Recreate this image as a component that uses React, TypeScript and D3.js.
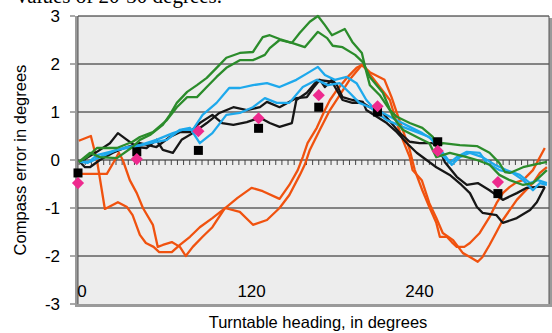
import React from 'react'
import * as d3 from 'd3'

// heading (deg), compass error (deg)
const orangeA = [[-3.4,0.4],[5.2,0.5],[9.5,0],[15.2,-1.02],[24.5,-0.88],[31,-0.98],[35,-1.15],[40.2,-1.56],[44.5,-1.73],[50,-1.81],[54,-1.92],[63,-1.92],[68.8,-1.77],[76,-1.6],[83,-1.4],[92,-1.21],[102,-0.98],[110,-0.79],[120,-0.58],[128,-0.65],[140,-0.81],[147,-0.52],[153,-0.21],[156.6,0.06],[160,0.35],[166.6,0.67],[172.4,1.04],[176,1.25],[181,1.46],[188,1.71],[195,1.92],[198.8,1.98],[204.5,1.83],[215,1.67],[220,1.31],[223.8,0.98],[228,0.63],[233,0.21],[236.6,-0.21],[242,-0.63],[247,-0.98],[252,-1.31],[254.5,-1.6],[259.5,-1.6],[263,-1.71],[266.6,-1.81],[272,-1.81],[276,-1.73],[283,-1.52],[290,-1.19],[295,-0.9],[299.5,-0.69],[304.5,-0.56],[309.5,-0.46],[314,-0.42],[321,-0.21],[329.5,0.25]]
const orangeB = [[-3.4,-0.29],[16.6,-0.29],[22.4,0],[25.2,0.15],[28,0],[33,-0.42],[38,-0.69],[42.4,-1.0],[49.5,-1.35],[53,-1.81],[56.6,-1.77],[63,-1.71],[68.8,-1.81],[73,-2.0],[78,-1.81],[85,-1.6],[92,-1.4],[101,-1.0],[111.6,-1.08],[121,-1.35],[131,-1.25],[140,-1.0],[147,-0.73],[154.5,-0.31],[158,-0.1],[161.6,0.21],[168.8,0.63],[176,1.04],[183,1.35],[190,1.67],[198.8,1.98],[201,1.92],[211.6,1.52],[218.8,1.25],[223.8,0.77],[228,0.42],[233,0.06],[235,-0.21],[241.6,-0.42],[247,-0.9],[252,-1.21],[256.6,-1.52],[264,-1.67],[271,-1.94],[276,-2.02],[281.6,-2.12],[285,-2.02],[290,-1.77],[295,-1.5],[299.5,-1.25],[304.5,-1.04],[309.5,-0.83],[314,-0.69],[321,-0.48],[326,-0.27],[331,-0.15]]
const greenA = [[-3.4,-0.04],[4.5,0.15],[11.6,0.06],[23.8,0.04],[35,0.27],[40.2,0.42],[47.4,0.52],[56.6,0.73],[61.6,0.94],[66.6,1.19],[74,1.42],[81,1.56],[88,1.71],[95,1.92],[102,2.13],[111.6,2.23],[121,2.25],[128,2.56],[133,2.6],[140,2.52],[148.8,2.44],[154.5,2.65],[161.6,2.88],[167.4,3.0],[172.4,2.81],[177.4,2.6],[186.6,2.73],[192,2.46],[198.8,2.23],[201.6,1.88],[204.5,1.56],[211.6,1.35],[218.8,1.04],[223.8,0.9],[233,0.77],[242,0.67],[249.5,0.48],[252,0.27],[256.6,0.35],[268.8,0.31],[281,0.29],[290,0.15],[297,-0.06],[301,-0.25],[304.5,-0.27],[314,-0.15],[321,-0.1],[331,-0.04]]
const greenB = [[-3.4,-0.04],[2.4,0.06],[9.5,0.25],[23.8,0.25],[35,0.38],[40.2,0.48],[49.5,0.58],[59.5,0.83],[66.6,1.1],[74,1.31],[81,1.31],[88,1.52],[95,1.73],[102,1.92],[111.6,2.08],[121,2.08],[129.5,2.19],[133,2.33],[140,2.5],[148.8,2.44],[158,2.35],[167.4,2.67],[174,2.54],[178,2.38],[185,2.35],[194,2.19],[199.5,2.04],[204.5,1.73],[213.8,1.4],[221,0.9],[228,0.63],[238,0.48],[247,0.35],[252,0.06],[261.6,0.15],[273.8,0.06],[281,0],[290,-0.1],[297,-0.31],[304.5,-0.42],[314,-0.52],[321,-0.48],[331,-0.21]]
const blueA = [[-2.6,-0.04],[3,-0.06],[9.5,0.1],[18.8,0.17],[31,0.27],[40.2,0.31],[52,0.42],[63.8,0.56],[71,0.63],[78,0.63],[85,0.94],[95,1.19],[104,1.5],[111.6,1.5],[121,1.56],[131,1.6],[140,1.52],[152,1.67],[160,1.81],[167.4,1.94],[172.4,1.77],[179.5,1.67],[188,1.73],[195,1.6],[202,1.25],[206.6,1.1],[213.8,0.98],[223.8,0.83],[233,0.69],[242,0.56],[249.5,0.42],[254.5,0.15],[261.6,-0.06],[266.6,0.06],[273.8,0.17],[283,0.15],[288,-0.06],[297,-0.21],[306.6,-0.27],[314,-0.42],[321,-0.63],[326,-0.48],[331,-0.52]]
const blueB = [[-2.6,-0.04],[4.5,-0.04],[11.6,0.06],[23.8,0.21],[35,0.27],[47.4,0.35],[59.5,0.42],[68.8,0.63],[76,0.67],[83,0.35],[92,0.56],[102,0.94],[111.6,0.98],[121,1.1],[129.5,1.29],[138,1.19],[147,1.19],[156.6,1.52],[166.6,1.67],[174.5,1.56],[183,1.6],[190,1.4],[197,1.19],[204.5,1.1],[216.6,0.83],[228,0.69],[240,0.56],[247,0.48],[256.6,0.15],[263,-0.1],[268.8,0.06],[276,0.15],[285,0.06],[293.8,-0.1],[302,-0.21],[311.6,-0.31],[319,-0.48],[324.5,-0.42],[331,-0.48]]
const blackA = [[-2.6,-0.04],[9.5,0.17],[18.8,0.35],[24.5,0.56],[31,0.42],[38,0.27],[45,0.25],[52,0.42],[56.6,0.21],[63.8,0.15],[70,0.42],[78,0.56],[88,0.77],[97,0.98],[107,1.1],[116.6,1.04],[126,1.1],[131,1.21],[140,1.1],[152,1.29],[159.5,1.31],[164,1.5],[168.8,1.67],[172.4,1.52],[177.4,1.67],[181,1.56],[185,1.31],[192,1.25],[199.5,1.21],[202,1.04],[209.5,0.9],[216.6,0.77],[223.8,0.58],[231,0.35],[238,0.15],[245,0],[252,-0.15],[261.6,-0.31],[270,-0.52],[276,-0.69],[281,-0.98],[285,-1.1],[295,-1.15],[299.5,-1.31],[309.5,-1.21],[319,-1.04],[323.8,-0.88],[329.5,-0.56]]
const blackB = [[-2.6,-0.04],[1,-0.15],[4.5,-0.15],[11.6,0],[21,0.15],[31,0.27],[40.2,0.35],[52,0.27],[61.6,0.48],[68.8,0.58],[76,0.58],[83,0.77],[92,0.94],[99,0.77],[107,0.73],[116.6,0.79],[126,0.88],[133,0.77],[140,0.69],[148.8,0.77],[152,1.25],[159.5,1.4],[167.4,1.67],[177.4,1.63],[183,1.35],[185,1.25],[192,1.19],[199.5,1.19],[204.5,1.1],[213.8,0.98],[226,0.56],[233,0.38],[240,0.35],[249.5,0.35],[254.5,0.21],[258,-0.04],[266.6,-0.35],[273.8,-0.52],[281.6,-0.48],[290,-0.63],[299.5,-0.83],[309.5,-0.69],[316.6,-0.58],[323.8,-0.56],[329.5,-0.56]]

const markerHeadings = [-4, 38, 82, 125, 168, 210, 253, 296]
const squareValues = [-0.27, 0.17, 0.2, 0.66, 1.1, 1.0, 0.38, -0.7]
const diamondValues = [-0.48, 0.02, 0.6, 0.87, 1.35, 1.12, 0.19, -0.46]

const yTicks = [-3, -2, -1, 0, 1, 2, 3]
const xLabels = [0, 120, 240]

const series = [
  { data: orangeA, color: '#f0520f' },
  { data: orangeB, color: '#f0520f' },
  { data: blackA, color: '#161616' },
  { data: blackB, color: '#161616' },
  { data: blueA, color: '#1ea9ec' },
  { data: blueB, color: '#1ea9ec' },
  { data: greenA, color: '#2b8c2b' },
  { data: greenB, color: '#2b8c2b' },
]

export default function App() {
  const left = 78, right = 549, top = 16, bottom = 304
  const x = d3.scaleLinear().domain([-4, 332.5]).range([left, right])
  const y = d3.scaleLinear().domain([-3, 3]).range([bottom, top])
  const line = d3.line<number[]>().x(d => x(d[0])).y(d => y(d[1]))
  const minorTicks = d3.range(-3.2, 332, 4.39)
  const diamond = d3.symbol(d3.symbolDiamond2, 95)() || ''
  const sans = 'Liberation Sans, Arial, sans-serif'

  return (
    <svg width={552} height={333} style={{ position: 'absolute', left: 0, top: 0, background: '#fff' }}>
      <text x={222} y={3} textAnchor="end" fontFamily="Liberation Serif, Times New Roman, serif" fontSize={21}>values of 20-30 degrees.</text>
      {/* plot area */}
      <rect x={left} y={top} width={right - left} height={bottom - top} fill="#ededed" />
      {yTicks.filter(t => t !== -3 && t !== 0).map(t => (
        <line key={t} x1={left} x2={right} y1={y(t)} y2={y(t)} stroke="#1a1a1a" strokeWidth={1} />
      ))}
      {/* frame with shadow */}
      <line x1={right + 1.5} x2={right + 1.5} y1={top + 2} y2={bottom + 3} stroke="#9a9a9a" strokeWidth={3} />
      <line x1={left} x2={right + 3} y1={bottom + 1.5} y2={bottom + 1.5} stroke="#9a9a9a" strokeWidth={3} />
      <line x1={left - 1.5} x2={left - 1.5} y1={top} y2={bottom + 3} stroke="#9a9a9a" strokeWidth={3} />
      <line x1={left} x2={left} y1={top} y2={bottom} stroke="#555" strokeWidth={1} />
      <line x1={right} x2={right} y1={top} y2={bottom} stroke="#555" strokeWidth={1} />
      {/* y ticks */}
      {yTicks.map(t => (
        <g key={t}>
          <line x1={left - 8} x2={left - 3} y1={y(t)} y2={y(t)} stroke="#555" />
          <text x={60} y={y(t) + 6} textAnchor="end" fontFamily={sans} fontSize={17}>{t}</text>
        </g>
      ))}
      {/* x axis at zero */}
      <line x1={left} x2={right} y1={y(0)} y2={y(0)} stroke="#1a1a1a" strokeWidth={1.2} />
      {minorTicks.map((t, i) => (
        <line key={i} x1={x(t)} x2={x(t)} y1={y(0)} y2={y(0) + 5} stroke="#444" strokeWidth={1} />
      ))}
      {xLabels.map(v => (
        <text key={v} x={x(v) + (v === 0 ? -1.5 : 0)} y={297} textAnchor="middle" fontFamily={sans} fontSize={17}>{v}</text>
      ))}
      {/* series */}
      <g fill="none" strokeWidth={2.3} strokeLinejoin="round">
        {series.map((s, i) => (
          <path key={i} d={line(s.data) || ''} stroke={s.color} />
        ))}
      </g>
      {markerHeadings.map((h, i) => (
        <rect key={'s' + i} x={x(h) - 4.5} y={y(squareValues[i]) - 4.5} width={9} height={9} fill="#000" />
      ))}
      {markerHeadings.map((h, i) => (
        <path key={'d' + i} d={diamond} transform={`translate(${x(h)},${y(diamondValues[i])})`} fill="#ee2a8e" />
      ))}
      <text x={318} y={328} textAnchor="middle" fontFamily={sans} fontSize={16.5}>Turntable heading, in degrees</text>
      <text transform={`translate(26,${(top + bottom) / 2}) rotate(-90)`} textAnchor="middle" fontFamily={sans} fontSize={16.5}>Compass error in degrees</text>
    </svg>
  )
}
